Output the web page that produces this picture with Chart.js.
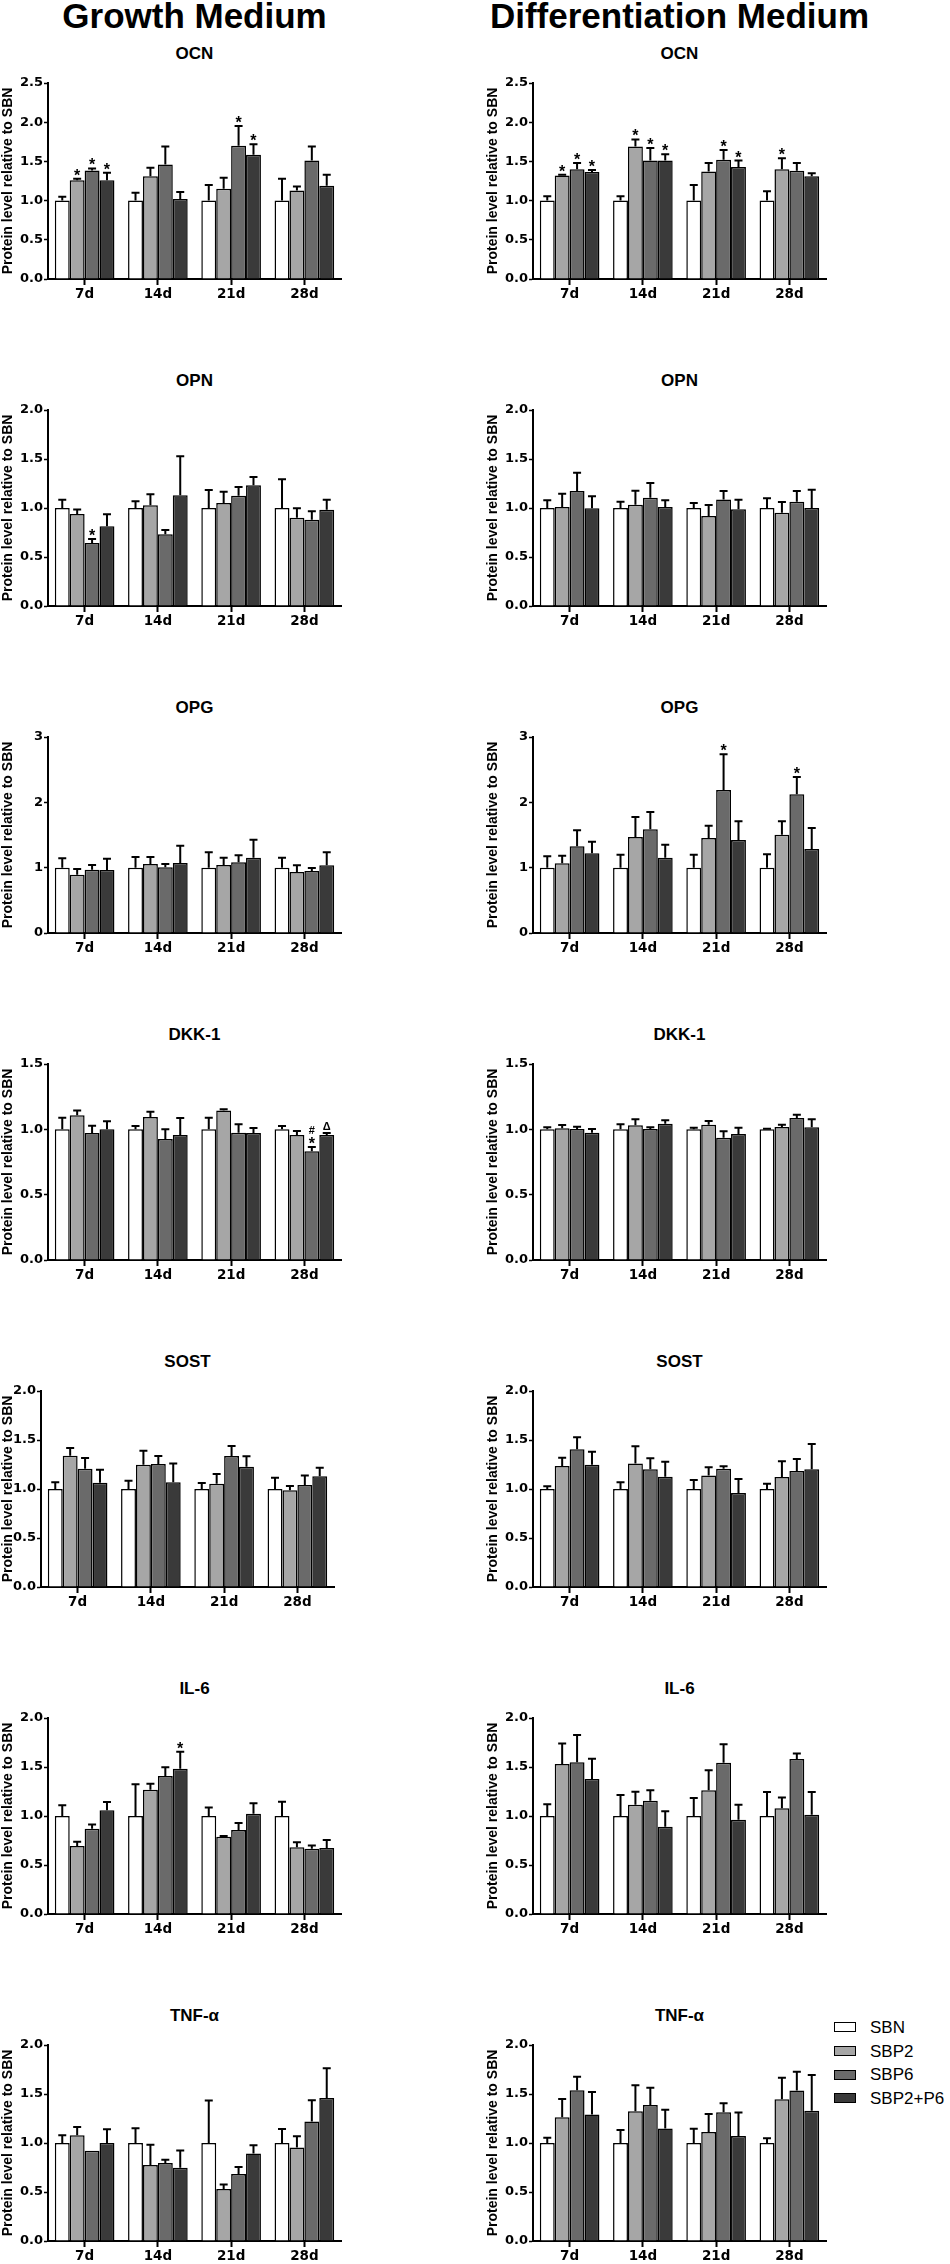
<!DOCTYPE html>
<html><head><meta charset="utf-8">
<script src="https://cdn.jsdelivr.net/npm/chart.js@4.4.1/dist/chart.umd.min.js"></script>
<style>
html,body{margin:0;padding:0;background:#fff;}
#page{position:relative;width:950px;height:2264px;overflow:hidden;background:#fff;}
.hdr{position:absolute;font:bold 35px/35px "Liberation Sans",Arial,sans-serif;color:#000;text-align:center;white-space:nowrap;width:500px;}
.ttl{position:absolute;font:bold 17px/17px "Liberation Sans",Arial,sans-serif;color:#000;text-align:center;white-space:nowrap;width:200px;}
.leg{position:absolute;font:17px/17px "Liberation Sans",Arial,sans-serif;color:#000;white-space:nowrap;}
.legbox{position:absolute;box-sizing:border-box;border:1.5px solid #000;}
canvas{position:absolute;}
</style></head><body><div id="page"></div>
<script>
// ---------- categories / series / panels ----------
const categories = ['7d', '14d', '21d', '28d'];
const seriesNames = ['SBN', 'SBP2', 'SBP6', 'SBP2+P6'];
const mediumNames = ['Growth Medium', 'Differentiation Medium'];
const markerNames = ['OCN', 'OPN', 'OPG', 'DKK-1', 'SOST', 'IL-6', 'TNF-α'];
const yMaxes = [2.5, 2.0, 3, 1.5, 2.0, 2.0, 2.0];
const ySteps = [0.5, 0.5, 1, 0.5, 0.5, 0.5, 0.5];
const yAxisTitle = 'Protein level relative to SBN';

// ---------- Growth medium: means (rows = series, cols = 7d..28d) and error tops ----------
const gmOCN    = [[1, 1, 1, 1], [1.26, 1.31, 1.15, 1.13], [1.385, 1.46, 1.70, 1.51], [1.26, 1.02, 1.585, 1.19]];
const gmOCNerr = [[1.05, 1.10, 1.20, 1.28], [1.28, 1.42, 1.29, 1.18], [1.41, 1.69, 1.95, 1.69], [1.355, 1.11, 1.72, 1.33]];
const gmOCNsig = [[0, 1, '*'], [0, 2, '*'], [0, 3, '*'], [2, 2, '*'], [2, 3, '*']];

const gmOPN    = [[1, 1, 1, 1], [0.94, 1.027, 1.051, 0.90], [0.643, 0.731, 1.126, 0.881], [0.813, 1.129, 1.231, 0.983]];
const gmOPNerr = [[1.085, 1.068, 1.184, 1.293], [0.985, 1.14, 1.167, 0.997], [0.684, 0.776, 1.214, 0.966], [0.935, 1.527, 1.316, 1.085]];
const gmOPNsig = [[0, 2, '*']];

const gmOPG    = [[1, 1, 1, 1], [0.893, 1.056, 1.04, 0.934], [0.969, 1.005, 1.082, 0.949], [0.964, 1.071, 1.153, 1.036]];
const gmOPGerr = [[1.143, 1.163, 1.235, 1.153], [0.98, 1.163, 1.153, 1.036], [1.04, 1.056, 1.189, 0.995], [1.138, 1.337, 1.429, 1.235]];
const gmOPGsig = [];

const gmDKK    = [[1, 1, 1, 1], [1.107, 1.094, 1.145, 0.957], [0.972, 0.926, 0.974, 0.832], [1.0, 0.957, 0.972, 0.957]];
const gmDKKerr = [[1.089, 1.026, 1.089, 1.026], [1.145, 1.135, 1.153, 0.987], [1.028, 1.0, 1.038, 0.865], [1.061, 1.087, 1.01, 0.972]];
const gmDKKsig = [[3, 2, '*'], [3, 2, '#'], [3, 3, 'Δ']];

const gmSOST    = [[1, 1, 1, 1], [1.34, 1.248, 1.054, 0.986], [1.207, 1.255, 1.337, 1.041], [1.065, 1.068, 1.228, 1.129]];
const gmSOSTerr = [[1.068, 1.085, 1.061, 1.116], [1.418, 1.391, 1.153, 1.031], [1.316, 1.337, 1.439, 1.139], [1.197, 1.259, 1.333, 1.218]];
const gmSOSTsig = [];

const gmIL6    = [[1, 1, 1, 1], [0.694, 1.269, 0.789, 0.68], [0.871, 1.408, 0.857, 0.667], [1.058, 1.483, 1.024, 0.673]];
const gmIL6err = [[1.109, 1.323, 1.088, 1.146], [0.738, 1.33, 0.796, 0.731], [0.912, 1.497, 0.929, 0.70], [1.143, 1.656, 1.129, 0.755]];
const gmIL6sig = [[1, 3, '*']];

const gmTNF    = [[1, 1, 1, 1], [1.078, 0.776, 0.53, 0.954], [0.92, 0.795, 0.683, 1.219], [1.0, 0.747, 0.893, 1.46]];
const gmTNFerr = [[1.078, 1.15, 1.433, 1.144], [1.163, 0.983, 0.577, 1.07], [0.92, 0.829, 0.754, 1.436], [1.14, 0.923, 0.978, 1.762]];
const gmTNFsig = [];

// ---------- Differentiation medium ----------
const dmOCN    = [[1, 1, 1, 1], [1.32, 1.69, 1.37, 1.40], [1.40, 1.51, 1.52, 1.38], [1.365, 1.51, 1.43, 1.31]];
const dmOCNerr = [[1.055, 1.055, 1.20, 1.12], [1.33, 1.78, 1.48, 1.54], [1.48, 1.67, 1.645, 1.48], [1.39, 1.59, 1.51, 1.35]];
const dmOCNsig = [[0, 1, '*'], [0, 2, '*'], [0, 3, '*'], [1, 1, '*'], [1, 2, '*'], [1, 3, '*'], [2, 2, '*'], [2, 3, '*'], [3, 1, '*']];

const dmOPN    = [[1, 1, 1, 1], [1.01, 1.034, 0.918, 0.952], [1.173, 1.105, 1.088, 1.065], [0.997, 1.01, 0.986, 1.0]];
const dmOPNerr = [[1.078, 1.065, 1.051, 1.10], [1.146, 1.177, 1.03, 1.061], [1.36, 1.255, 1.173, 1.173], [1.119, 1.078, 1.085, 1.187]];
const dmOPNsig = [];

const dmOPG    = [[1, 1, 1, 1], [1.066, 1.469, 1.454, 1.505], [1.327, 1.587, 2.189, 2.122], [1.219, 1.153, 1.423, 1.286]];
const dmOPGerr = [[1.173, 1.199, 1.199, 1.204], [1.184, 1.776, 1.643, 1.709], [1.571, 1.852, 2.735, 2.388], [1.398, 1.352, 1.709, 1.607]];
const dmOPGsig = [[2, 2, '*'], [3, 2, '*']];

const dmDKK    = [[1, 1, 1, 1], [1.008, 1.031, 1.036, 1.018], [1.003, 1.003, 0.936, 1.087], [0.974, 1.043, 0.964, 1.015]];
const dmDKKerr = [[1.015, 1.038, 1.013, 1.005], [1.033, 1.077, 1.064, 1.036], [1.02, 1.015, 0.985, 1.112], [1.003, 1.069, 1.013, 1.077]];
const dmDKKsig = [];

const dmSOST    = [[1, 1, 1, 1], [1.235, 1.259, 1.139, 1.122], [1.405, 1.201, 1.207, 1.184], [1.248, 1.126, 0.959, 1.201]];
const dmSOSTerr = [[1.027, 1.068, 1.092, 1.054], [1.32, 1.435, 1.221, 1.282], [1.527, 1.313, 1.231, 1.306], [1.381, 1.279, 1.102, 1.459]];
const dmSOSTsig = [];

const dmIL6    = [[1, 1, 1, 1], [1.531, 1.116, 1.262, 1.078], [1.548, 1.156, 1.544, 1.582], [1.378, 0.891, 0.963, 1.014]];
const dmIL6err = [[1.119, 1.214, 1.184, 1.245], [1.741, 1.248, 1.466, 1.19], [1.827, 1.262, 1.731, 1.639], [1.585, 1.048, 1.116, 1.245]];
const dmIL6sig = [];

const dmTNF    = [[1, 1, 1, 1], [1.263, 1.323, 1.112, 1.447], [1.538, 1.389, 1.314, 1.535], [1.29, 1.149, 1.071, 1.328]];
const dmTNFerr = [[1.054, 1.132, 1.146, 1.048], [1.45, 1.589, 1.295, 1.667], [1.677, 1.565, 1.406, 1.728], [1.52, 1.34, 1.311, 1.695]];
const dmTNFsig = [];

// ---------- styles / layout ----------
const seriesColors = ['#ffffff', '#a6a6a6', '#6a6a6a', '#3a3a3a'];
const ROW0_TOP = 83, ROW_PITCH = 327, PLOT_H = 196, AXIS_W = 48, PLOT_W = 293;
const PAD_T = 10, PAD_R = 8, XAX_H = 30;
const colAxisX = [48, 533];
const axisShift = { '0-4': -7 };

const panelMeans = [
  [gmOCN, gmOPN, gmOPG, gmDKK, gmSOST, gmIL6, gmTNF],
  [dmOCN, dmOPN, dmOPG, dmDKK, dmSOST, dmIL6, dmTNF]
];
const panelErrs = [
  [gmOCNerr, gmOPNerr, gmOPGerr, gmDKKerr, gmSOSTerr, gmIL6err, gmTNFerr],
  [dmOCNerr, dmOPNerr, dmOPGerr, dmDKKerr, dmSOSTerr, dmIL6err, dmTNFerr]
];
const panelSigs = [
  [gmOCNsig, gmOPNsig, gmOPGsig, gmDKKsig, gmSOSTsig, gmIL6sig, gmTNFsig],
  [dmOCNsig, dmOPNsig, dmOPGsig, dmDKKsig, dmSOSTsig, dmIL6sig, dmTNFsig]
];

const page = document.getElementById('page');
const tickFont = { family: '"DejaVu Sans", sans-serif', weight: 'bold', size: 13 };
const catFont = { family: '"DejaVu Sans", sans-serif', weight: 'bold', size: 13.5 };

function makeErrPlugin(err, sig) {
  return {
    id: 'errbars',
    afterDatasetsDraw(chart) {
      const ys = chart.scales.y, ctx = chart.ctx;
      ctx.save();
      ctx.strokeStyle = '#000';
      ctx.lineWidth = 2;
      chart.data.datasets.forEach((ds, i) => {
        const meta = chart.getDatasetMeta(i);
        meta.data.forEach((bar, j) => {
          const e = err[i][j], m = ds.data[j];
          if (e > m + 1e-6) {
            const yT = ys.getPixelForValue(e);
            ctx.beginPath();
            ctx.moveTo(bar.x, bar.y);
            ctx.lineTo(bar.x, yT);
            ctx.moveTo(bar.x - 4, yT);
            ctx.lineTo(bar.x + 4, yT);
            ctx.stroke();
          }
        });
      });
      const stack = {};
      ctx.fillStyle = '#000';
      ctx.textAlign = 'center';
      ctx.textBaseline = 'alphabetic';
      sig.forEach(([c, s, sym]) => {
        const key = c + '-' + s;
        const n = stack[key] || 0;
        stack[key] = n + 1;
        const bar = chart.getDatasetMeta(s).data[c];
        const top = ys.getPixelForValue(Math.max(err[s][c], chart.data.datasets[s].data[c]));
        const center = top - 7 - n * 10;
        let size, k;
        if (sym === '*') { size = 16; k = 0.56; } else { size = 11; k = 0.36; }
        ctx.font = 'bold ' + size + 'px "Liberation Sans", Arial, sans-serif';
        ctx.fillText(sym, bar.x, center + k * size);
      });
      ctx.restore();
    }
  };
}

// column headers
mediumNames.forEach((name, col) => {
  const d = document.createElement('div');
  d.className = 'hdr';
  const cx = colAxisX[col] + PLOT_W / 2;
  d.style.left = (cx - 250) + 'px';
  d.style.top = '-2px';
  d.textContent = name;
  page.appendChild(d);
});

for (let col = 0; col < 2; col++) {
  for (let row = 0; row < markerNames.length; row++) {
    const shift = axisShift[col + '-' + row] || 0;
    const axisX = colAxisX[col] + shift;
    const axisW = AXIS_W + shift;
    const plotTop = ROW0_TOP + row * ROW_PITCH;

    const t = document.createElement('div');
    t.className = 'ttl';
    t.style.left = (axisX + PLOT_W / 2 - 100) + 'px';
    t.style.top = (plotTop - 30 - 8.3) + 'px';
    t.textContent = markerNames[row];
    page.appendChild(t);

    const cv = document.createElement('canvas');
    const W = axisW + PLOT_W + PAD_R, H = PAD_T + PLOT_H + XAX_H;
    cv.width = W; cv.height = H;
    cv.style.width = W + 'px'; cv.style.height = H + 'px';
    cv.style.left = (axisX - axisW) + 'px';
    cv.style.top = (plotTop - PAD_T) + 'px';
    page.appendChild(cv);

    const mean = panelMeans[col][row], err = panelErrs[col][row], sig = panelSigs[col][row];
    const step = ySteps[row];
    const dec = step < 1 ? 1 : 0;

    new Chart(cv, {
      type: 'bar',
      data: {
        labels: categories,
        datasets: seriesNames.map((n, i) => ({
          label: n,
          data: mean[i],
          backgroundColor: seriesColors[i],
          borderColor: '#000',
          borderWidth: 1.5,
          categoryPercentage: 0.814,
          barPercentage: 1.0
        }))
      },
      options: {
        responsive: false,
        animation: false,
        events: [],
        layout: { padding: { top: PAD_T, right: PAD_R, bottom: 0, left: 0 } },
        plugins: { legend: { display: false }, title: { display: false }, tooltip: { enabled: false } },
        scales: {
          x: {
            grid: { drawOnChartArea: false, offset: false, drawTicks: true, tickLength: 6, tickWidth: 2, tickColor: '#000' },
            border: { display: true, color: '#000', width: 2 },
            ticks: { color: '#000', font: catFont, padding: 1, maxRotation: 0, autoSkip: false },
            afterFit(s) { s.height = XAX_H; }
          },
          y: {
            min: 0, max: yMaxes[row],
            ticks: { stepSize: step, color: '#000', font: tickFont, padding: 1, callback: v => Number(v).toFixed(dec) },
            grid: { drawOnChartArea: false, drawTicks: true, tickLength: 4, tickWidth: 1.5, tickColor: '#000' },
            border: { display: true, color: '#000', width: 2 },
            title: { display: true, text: yAxisTitle, color: '#000', padding: { top: 0, bottom: 0 },
                     font: { family: '"Liberation Sans", Arial, sans-serif', weight: 'bold', size: 14 } },
            afterFit(s) { s.width = axisW; }
          }
        }
      },
      plugins: [makeErrPlugin(err, sig)]
    });
  }
}

// legend
const LEG_X = 834, LEG_Y0 = 2027, LEG_DY = 23.8;
seriesNames.forEach((n, i) => {
  const cy = LEG_Y0 + i * LEG_DY;
  const b = document.createElement('div');
  b.className = 'legbox';
  b.style.left = LEG_X + 'px';
  b.style.top = (cy - 5) + 'px';
  b.style.width = '22px';
  b.style.height = '10px';
  b.style.background = seriesColors[i];
  page.appendChild(b);
  const tx = document.createElement('div');
  tx.className = 'leg';
  tx.style.left = (LEG_X + 36) + 'px';
  tx.style.top = (cy - 8.3) + 'px';
  tx.textContent = n;
  page.appendChild(tx);
});
</script></body></html>
